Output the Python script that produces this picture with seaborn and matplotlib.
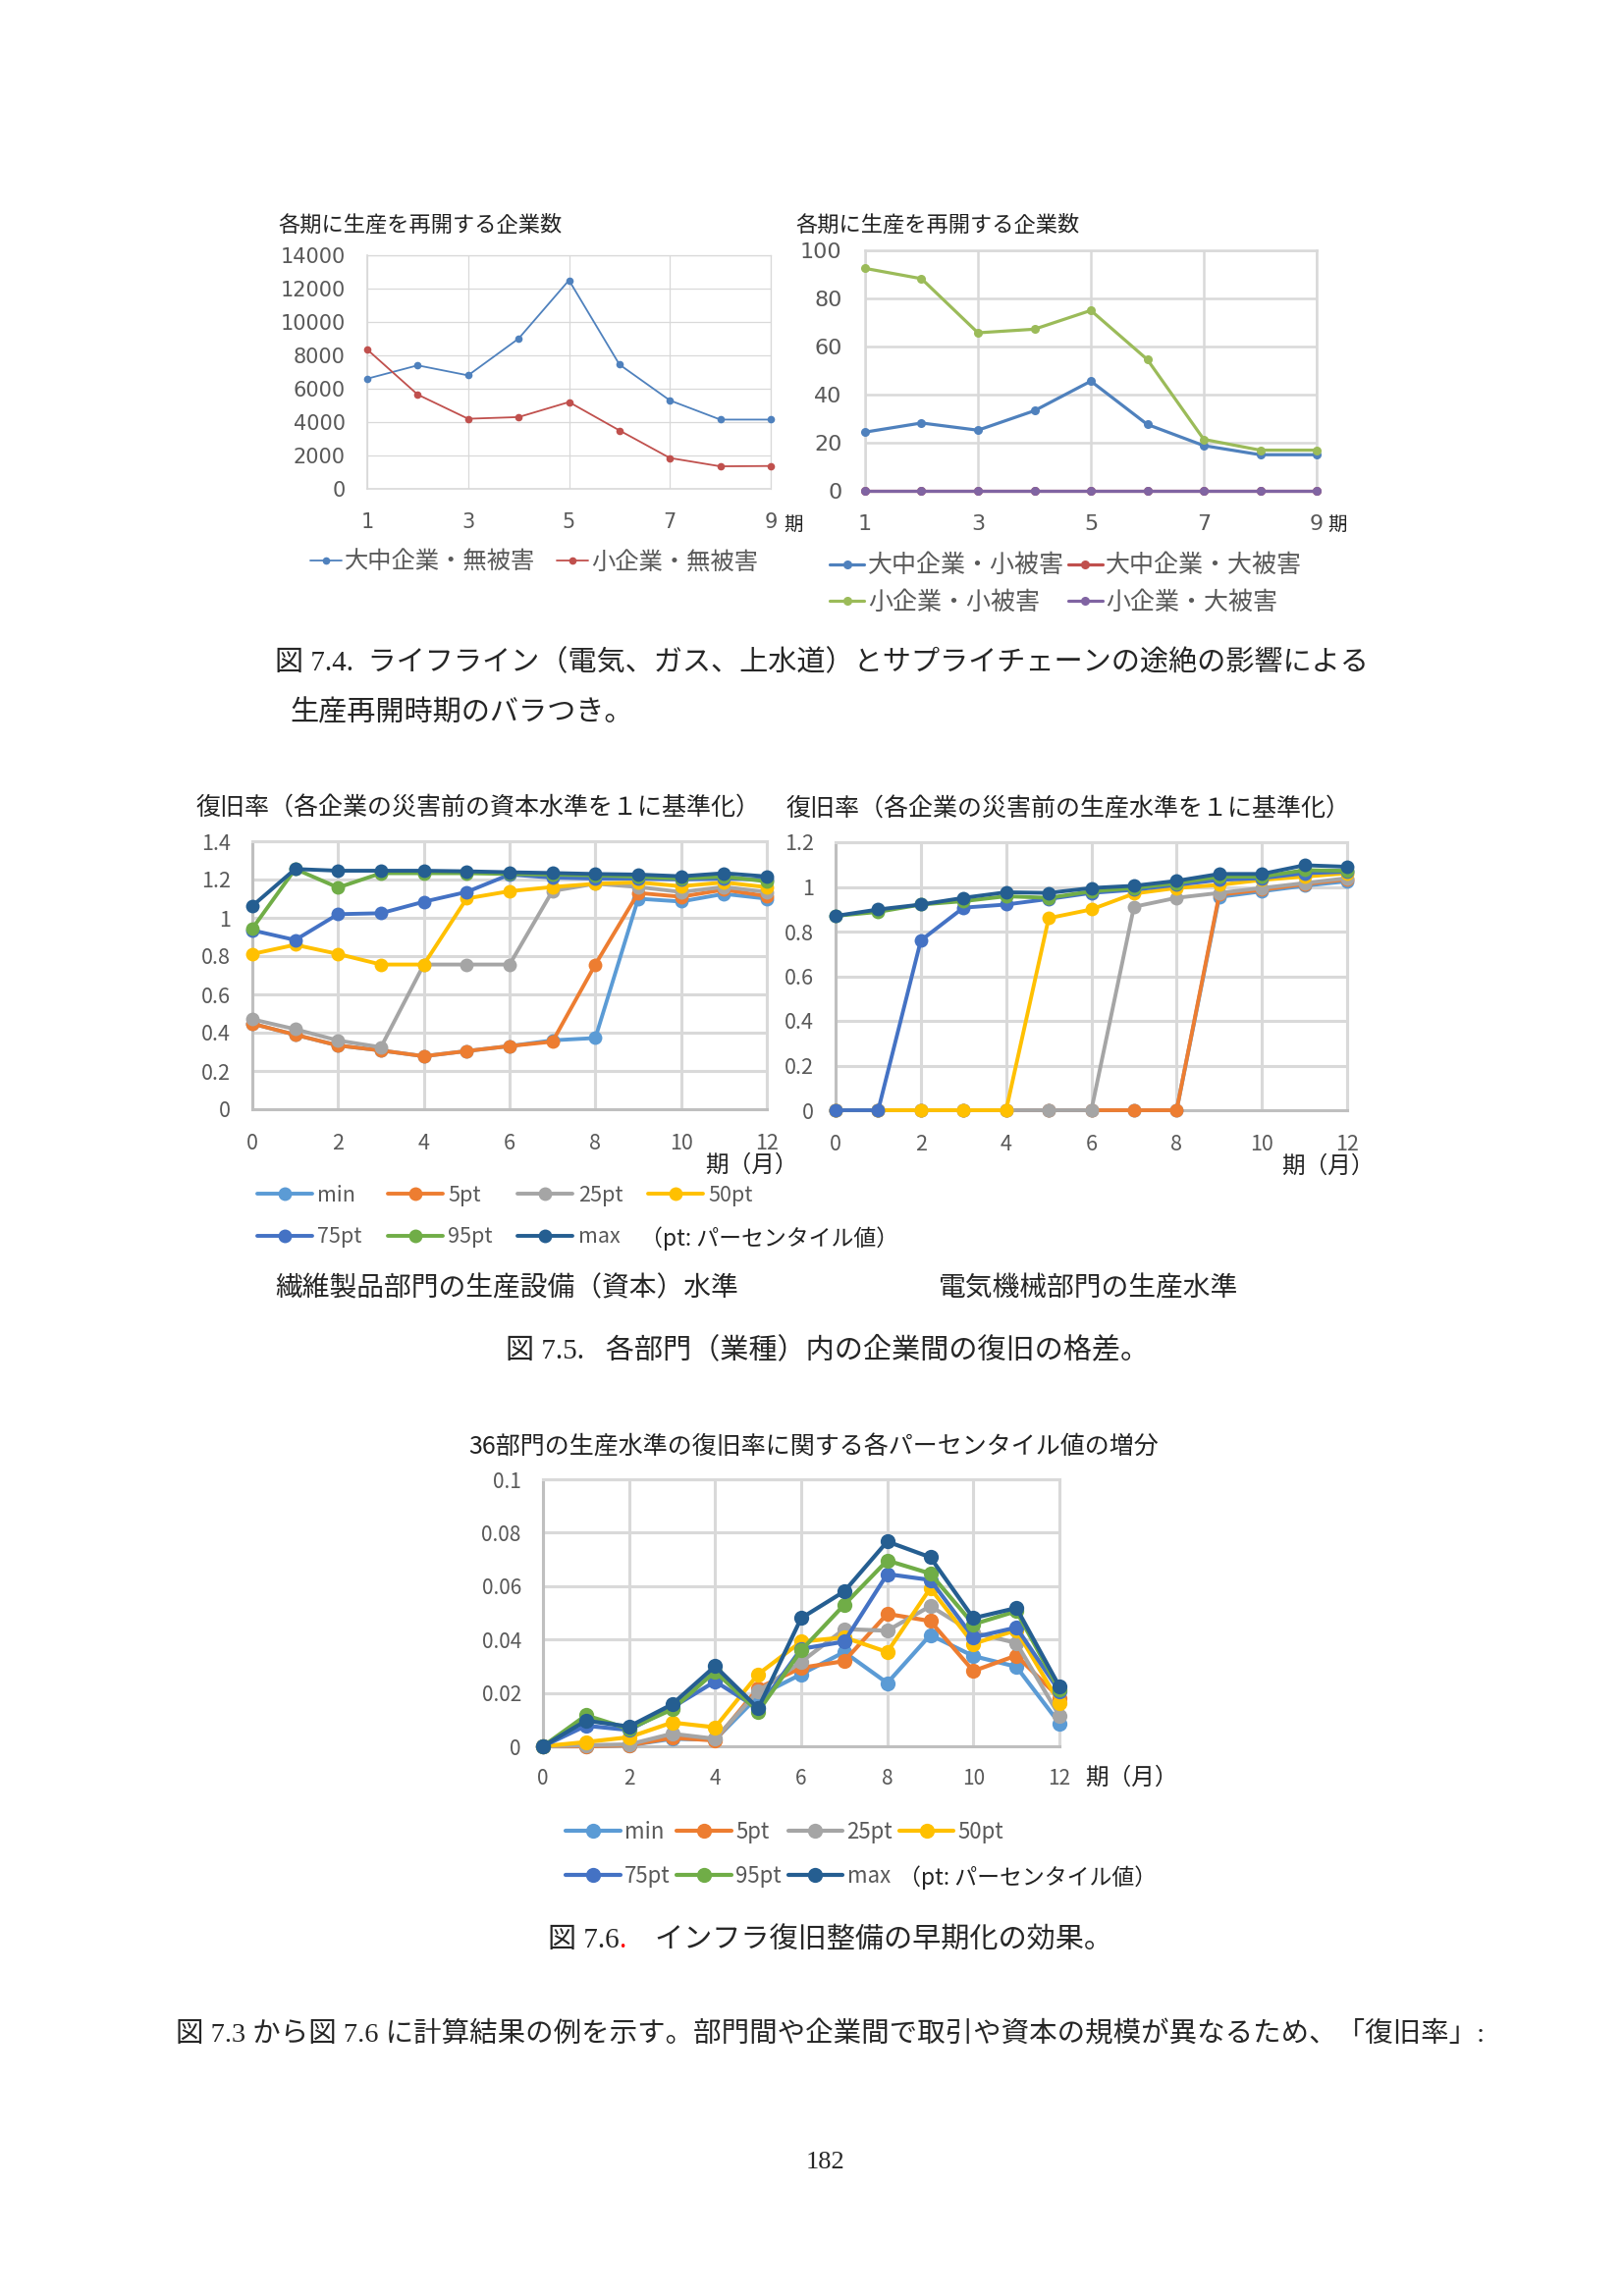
import matplotlib
matplotlib.use("Agg")
import matplotlib.pyplot as plt
import seaborn as sns
from matplotlib.lines import Line2D

sns.set_theme(style="white")
JP = ["Noto Sans CJK JP", "DejaVu Sans"]
SERIF = ["Liberation Serif", "Noto Sans CJK JP"]
plt.rcParams["font.family"] = JP

W, H = 1654, 2339

# ---------------- data ----------------
# Fig 7.4 (left / right): number of firms restarting production per period
periods = [1, 2, 3, 4, 5, 6, 7, 8, 9]
period_ticks = [1, 3, 5, 7, 9]
large_mid_nodmg = [6600, 7400, 6800, 9000, 12500, 7450, 5300, 4150, 4150]
small_nodmg = [8350, 5650, 4200, 4300, 5200, 3500, 1850, 1350, 1370]
fig74a_labels = ["大中企業・無被害", "小企業・無被害"]
fig74a_yticks = [0, 2000, 4000, 6000, 8000, 10000, 12000, 14000]

large_mid_small_dmg = [24.4, 28.2, 25.2, 33.3, 45.6, 27.6, 18.8, 15.0, 15.0]
large_mid_large_dmg = [0, 0, 0, 0, 0, 0, 0, 0, 0]
small_small_dmg = [92.5, 88.2, 65.7, 67.2, 75.0, 54.6, 21.4, 16.9, 16.9]
small_large_dmg = [0, 0, 0, 0, 0, 0, 0, 0, 0]
fig74b_labels = ["大中企業・小被害", "大中企業・大被害", "小企業・小被害", "小企業・大被害"]
fig74b_yticks = [0, 20, 40, 60, 80, 100]

# Fig 7.5 / 7.6: percentiles by month
months = [0, 1, 2, 3, 4, 5, 6, 7, 8, 9, 10, 11, 12]
month_ticks = [0, 2, 4, 6, 8, 10, 12]
pct_labels = ["min", "5pt", "25pt", "50pt", "75pt", "95pt", "max"]

cap_min = [0.447, 0.389, 0.333, 0.307, 0.277, 0.304, 0.330, 0.360, 0.372, 1.100, 1.085, 1.125, 1.100]
cap_5 = [0.447, 0.389, 0.333, 0.307, 0.277, 0.304, 0.330, 0.353, 0.756, 1.130, 1.110, 1.147, 1.113]
cap_25 = [0.470, 0.418, 0.359, 0.324, 0.756, 0.756, 0.756, 1.140, 1.178, 1.161, 1.135, 1.161, 1.135]
cap_50 = [0.811, 0.859, 0.811, 0.756, 0.756, 1.101, 1.139, 1.161, 1.178, 1.185, 1.165, 1.185, 1.160]
cap_75 = [0.935, 0.884, 1.019, 1.024, 1.084, 1.135, 1.226, 1.210, 1.205, 1.205, 1.200, 1.205, 1.200]
cap_95 = [0.944, 1.255, 1.158, 1.233, 1.233, 1.233, 1.229, 1.226, 1.222, 1.215, 1.205, 1.216, 1.190]
cap_max = [1.062, 1.255, 1.246, 1.246, 1.246, 1.243, 1.238, 1.234, 1.229, 1.226, 1.217, 1.233, 1.216]
cap_yticks = [0, 0.2, 0.4, 0.6, 0.8, 1.0, 1.2, 1.4]
cap_ylabels = ["0", "0.2", "0.4", "0.6", "0.8", "1", "1.2", "1.4"]

prod_min = [0, 0, 0, 0, 0, 0, 0, 0, 0, 0.955, 0.980, 1.005, 1.025]
prod_5 = [0, 0, 0, 0, 0, 0, 0, 0, 0, 0.965, 0.987, 1.012, 1.034]
prod_25 = [0, 0, 0, 0, 0, 0, 0, 0.911, 0.951, 0.973, 0.995, 1.017, 1.039]
prod_50 = [0, 0, 0, 0, 0, 0.860, 0.899, 0.970, 0.995, 1.009, 1.031, 1.046, 1.061]
prod_75 = [0, 0, 0.760, 0.907, 0.921, 0.946, 0.973, 0.987, 1.009, 1.031, 1.039, 1.061, 1.068]
prod_95 = [0.870, 0.888, 0.921, 0.936, 0.958, 0.951, 0.980, 0.995, 1.017, 1.046, 1.046, 1.075, 1.072]
prod_max = [0.870, 0.899, 0.921, 0.951, 0.976, 0.973, 0.995, 1.005, 1.027, 1.058, 1.058, 1.097, 1.090]
prod_yticks = [0, 0.2, 0.4, 0.6, 0.8, 1.0, 1.2]
prod_ylabels = ["0", "0.2", "0.4", "0.6", "0.8", "1", "1.2"]

inc_min = [0, 0, 0.0004, 0.0028, 0.0025, 0.0188, 0.0270, 0.0353, 0.0237, 0.0417, 0.0338, 0.0298, 0.0086]
inc_5 = [0, 0, 0.0004, 0.0032, 0.0022, 0.0218, 0.0294, 0.0319, 0.0496, 0.0469, 0.0282, 0.0340, 0.0181]
inc_25 = [0, 0.0004, 0.0007, 0.0047, 0.0028, 0.0206, 0.0316, 0.0439, 0.0433, 0.0525, 0.0426, 0.0387, 0.0114]
inc_50 = [0, 0.0016, 0.0034, 0.0089, 0.0071, 0.0270, 0.0392, 0.0408, 0.0353, 0.0592, 0.0384, 0.0435, 0.0163]
inc_75 = [0, 0.0077, 0.0061, 0.0145, 0.0243, 0.0142, 0.0365, 0.0392, 0.0645, 0.0623, 0.0408, 0.0445, 0.0206]
inc_95 = [0, 0.0116, 0.0065, 0.0138, 0.0280, 0.0130, 0.0359, 0.0530, 0.0696, 0.0647, 0.0457, 0.0506, 0.0212]
inc_max = [0, 0.0096, 0.0074, 0.0157, 0.0300, 0.0142, 0.0480, 0.0580, 0.0767, 0.0708, 0.0480, 0.0518, 0.0224]
inc_yticks = [0, 0.02, 0.04, 0.06, 0.08, 0.1]
inc_ylabels = ["0", "0.02", "0.04", "0.06", "0.08", "0.1"]

# colours
XL07 = ["#4F81BD", "#C0504D", "#9BBB59", "#8064A2"]
XL13 = ["#5B9BD5", "#ED7D31", "#A5A5A5", "#FFC000", "#4472C4", "#70AD47", "#255E91"]
GRID = "#D9D9D9"
AXIS = "#BFBFBF"
TXT = "#595959"

fig = plt.figure(figsize=(W / 100, H / 100), dpi=100)
fig.patch.set_facecolor("white")


def add_ax(l, t, r, b):
    return fig.add_axes([l / W, 1 - b / H, (r - l) / W, (b - t) / H])


def fx(x):
    return x / W


def fy(y):
    return 1 - y / H


def draw_lines(ax, x, series, colors, lw, ms):
    for vals, c in zip(series, colors):
        sns.lineplot(x=x, y=vals, ax=ax, color=c, lw=lw, marker="o",
                     markersize=ms, markeredgewidth=0, legend=False)
    for ln in ax.lines:
        ln.set_clip_on(False)
        ln.set_zorder(3)


def frame(ax, xlim, xticks, ylim, yticks, ylabels, grid_lw, left_c, left_lw,
          fs, xpad, ypad, tick_font=None):
    ax.set_xlim(xlim)
    ax.set_ylim(ylim)
    ax.set_xticks(xticks)
    ax.set_xticklabels([str(t) for t in xticks])
    ax.set_yticks(yticks)
    ax.set_yticklabels(ylabels)
    ax.grid(True, color=GRID, lw=grid_lw)
    ax.set_axisbelow(True)
    for s in ax.spines.values():
        s.set_color(GRID)
        s.set_linewidth(grid_lw)
    for s in ("left", "bottom"):
        ax.spines[s].set_color(left_c)
        ax.spines[s].set_linewidth(left_lw)
    ax.tick_params(length=0, labelsize=fs, labelcolor=TXT)
    ax.tick_params(axis="x", pad=xpad)
    ax.tick_params(axis="y", pad=ypad)
    if tick_font:
        for lab in ax.get_xticklabels() + ax.get_yticklabels():
            lab.set_family(tick_font)
    ax.set_xlabel("")
    ax.set_ylabel("")


def handles(colors, lw, ms):
    return [Line2D([], [], color=c, lw=lw, marker="o", ms=ms, mew=0) for c in colors]


# ---------------- Fig 7.4 left ----------------
ax1 = add_ax(374, 260, 785, 498)
draw_lines(ax1, periods, [large_mid_nodmg, small_nodmg], XL07[:2], 1.3, 5.5)
frame(ax1, (1, 9), period_ticks, (0, 14000), fig74a_yticks,
      [str(v) for v in fig74a_yticks], 0.9, GRID, 1.2, 15, 17, 16,
      tick_font="DejaVu Sans")
fig.text(fx(283), fy(229), "各期に生産を再開する企業数", fontsize=16,
         color="#222222", va="center")
fig.text(fx(798), fy(534), "期", fontsize=14, color="#222222", va="center")
ax1.legend(handles(XL07[:2], 1.3, 5.5), fig74a_labels, loc="center left",
           bbox_to_anchor=(fx(316), fy(573)), bbox_transform=fig.transFigure,
           ncol=2, frameon=False, fontsize=17.5, labelcolor=TXT, borderpad=0,
           borderaxespad=0, handlelength=1.3, handletextpad=0.15,
           columnspacing=0.9)

# ---------------- Fig 7.4 right ----------------
ax2 = add_ax(881, 255, 1341, 500)
draw_lines(ax2, periods,
           [large_mid_small_dmg, large_mid_large_dmg, small_small_dmg, small_large_dmg],
           XL07, 2.3, 6.5)
frame(ax2, (1, 9), period_ticks, (0, 100), fig74b_yticks,
      [str(v) for v in fig74b_yticks], 1.8, GRID, 1.8, 16, 17, 17,
      tick_font="DejaVu Sans")
fig.text(fx(810), fy(229), "各期に生産を再開する企業数", fontsize=16,
         color="#222222", va="center")
fig.text(fx(1352), fy(534), "期", fontsize=14, color="#222222", va="center")
order = [0, 2, 1, 3]
h2 = handles(XL07, 2.3, 6.5)
ax2.legend([h2[i] for i in order], [fig74b_labels[i] for i in order],
           loc="center left", bbox_to_anchor=(fx(845), fy(595)),
           bbox_transform=fig.transFigure, ncol=2, frameon=False, fontsize=18,
           labelcolor=TXT, borderpad=0, borderaxespad=0, handlelength=1.4,
           handletextpad=0.15, columnspacing=0.15, labelspacing=0.45)

# ---------------- captions ----------------
fig.text(fx(280), fy(675),
         "図 7.4.  ライフライン（電気、ガス、上水道）とサプライチェーンの途絶の影響による",
         fontsize=21, family=SERIF, va="center")
fig.text(fx(295), fy(727), "生産再開時期のバラつき。", fontsize=21, family=SERIF,
         va="center")

# ---------------- Fig 7.5 left (capital) ----------------
ax3 = add_ax(257, 857, 781, 1130)
draw_lines(ax3, months, [cap_min, cap_5, cap_25, cap_50, cap_75, cap_95, cap_max],
           XL13, 2.8, 10)
frame(ax3, (0, 12), month_ticks, (0, 1.4), cap_yticks, cap_ylabels, 2.2, AXIS,
      2.2, 15.5, 17, 16)
fig.text(fx(200), fy(824), "復旧率（各企業の災害前の資本水準を１に基準化）",
         fontsize=18, color="#222222", va="center")
fig.text(fx(813), fy(1187), "期（月）", fontsize=17, color="#222222",
         va="center", ha="right")

leg_order = [0, 4, 1, 5, 2, 6, 3]
h3 = handles(XL13, 2.8, 10)
ax3.legend([h3[i] for i in leg_order], [pct_labels[i] for i in leg_order],
           loc="center left", bbox_to_anchor=(fx(262), fy(1239)),
           bbox_transform=fig.transFigure, ncol=4, frameon=False, fontsize=15.5,
           labelcolor=TXT, borderpad=0, borderaxespad=0, handlelength=2.6,
           handletextpad=0.25, columnspacing=1.2, labelspacing=0.95)
fig.text(fx(652), fy(1262), "（pt: パーセンタイル値）", fontsize=16.5,
         color="#222222", va="center")

# ---------------- Fig 7.5 right (production) ----------------
ax4 = add_ax(851, 858, 1372, 1131)
draw_lines(ax4, months, [prod_min, prod_5, prod_25, prod_50, prod_75, prod_95, prod_max],
           XL13, 2.8, 10)
frame(ax4, (0, 12), month_ticks, (0, 1.2), prod_yticks, prod_ylabels, 2.2, AXIS,
      2.2, 15.5, 17, 16)
fig.text(fx(801), fy(824), "復旧率（各企業の災害前の生産水準を１に基準化）",
         fontsize=18, color="#222222", va="center")
fig.text(fx(1400), fy(1188), "期（月）", fontsize=17, color="#222222",
         va="center", ha="right")

fig.text(fx(280), fy(1313), "繊維製品部門の生産設備（資本）水準", fontsize=20,
         family=SERIF, va="center")
fig.text(fx(956), fy(1313), "電気機械部門の生産水準", fontsize=20,
         family=SERIF, va="center")
fig.text(fx(515), fy(1375), "図 7.5.   各部門（業種）内の企業間の復旧の格差。",
         fontsize=21, family=SERIF, va="center")

# ---------------- Fig 7.6 ----------------
ax5 = add_ax(553, 1507, 1079, 1779)
draw_lines(ax5, months, [inc_min, inc_5, inc_25, inc_50, inc_75, inc_95, inc_max],
           XL13, 3.0, 11)
frame(ax5, (0, 12), month_ticks, (0, 0.1), inc_yticks, inc_ylabels, 2.2, AXIS,
      2.2, 15, 16, 16)
fig.text(fx(477), fy(1474), "36部門の生産水準の復旧率に関する各パーセンタイル値の増分",
         fontsize=18, color="#222222", va="center")
fig.text(fx(1105), fy(1811), "期（月）", fontsize=17, color="#222222",
         va="center")
h5 = handles(XL13, 3.0, 11)
ax5.legend([h5[i] for i in leg_order], [pct_labels[i] for i in leg_order],
           loc="center left", bbox_to_anchor=(fx(576), fy(1889)),
           bbox_transform=fig.transFigure, ncol=4, frameon=False, fontsize=16,
           labelcolor=TXT, borderpad=0, borderaxespad=0, handlelength=2.5,
           handletextpad=0.2, columnspacing=0.3, labelspacing=1.0)
fig.text(fx(915), fy(1913), "（pt: パーセンタイル値）", fontsize=16.5,
         color="#222222", va="center")

# caption 7.6 with the red period
fig.canvas.draw()
rend = fig.canvas.get_renderer()
t1 = fig.text(fx(558), fy(1977), "図 7.6", fontsize=21, family=SERIF, va="center")
x_end = t1.get_window_extent(rend).x1
t2 = fig.text(x_end / W, fy(1977), ".", fontsize=21, family=SERIF, va="center",
              color="red")
x_end = t2.get_window_extent(rend).x1
fig.text(x_end / W, fy(1977), "    インフラ復旧整備の早期化の効果。", fontsize=21,
         family=SERIF, va="center")

fig.text(fx(179), fy(2073),
         "図 7.3 から図 7.6 に計算結果の例を示す。部門間や企業間で取引や資本の規模が異なるため、「復旧率」:",
         fontsize=20.5, family=SERIF, va="center")
fig.text(fx(841), fy(2203), "182", fontsize=19, family=SERIF, va="center",
         ha="center")

fig.savefig("out.png", dpi=100, facecolor="white")
